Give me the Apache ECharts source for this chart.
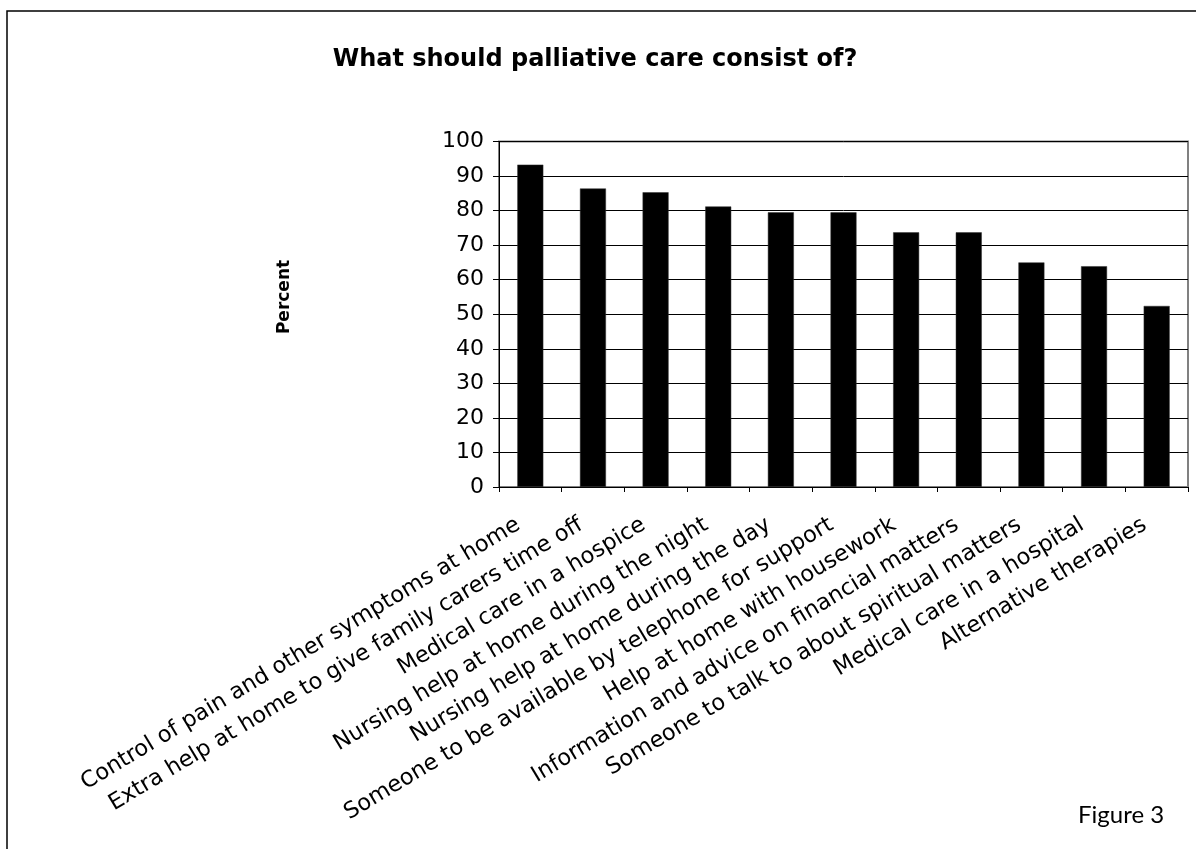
<!DOCTYPE html>
<html>
<head>
<meta charset="utf-8">
<script src="https://cdn.jsdelivr.net/npm/echarts@6/dist/echarts.min.js"></script>
<style>
html,body{margin:0;padding:0;background:#fff;}
#chart{width:1196px;height:849px;}
</style>
</head>
<body>
<div id="chart"></div>
<script>
var titleText = 'What should palliative care consist of?';
var yAxisTitle = 'Percent';
var figureLabel = 'Figure 3';
var categories = [
  'Control of pain and other symptoms at home',
  'Extra help at home to give family carers time off',
  'Medical care in a hospice',
  'Nursing help at home during the night',
  'Nursing help at home during the day',
  'Someone to be available by telephone for support',
  'Help at home with housework',
  'Information and advice on financial matters',
  'Someone to talk to about spiritual matters',
  'Medical care in a hospital',
  'Alternative therapies'
];
var percentValues = [93.3, 86.4, 85.3, 81.2, 79.5, 79.5, 73.7, 73.7, 65.0, 63.9, 52.4];
var yTicks = [0, 10, 20, 30, 40, 50, 60, 70, 80, 90, 100];

var chart = echarts.init(document.getElementById('chart'), null, {renderer: 'canvas'});
var font = '"DejaVu Sans", Verdana, sans-serif';
chart.setOption({
  animation: false,
  backgroundColor: '#ffffff',
  title: {
    text: titleText,
    left: 590,
    textAlign: 'center',
    top: 43,
    textStyle: {fontFamily: font, fontWeight: 'bold', fontSize: 24, color: '#000'}
  },
  grid: {
    left: 499, right: 8, top: 141.5, bottom: 362,
    show: true, borderColor: '#808080', borderWidth: 2, backgroundColor: '#fff'
  },
  xAxis: {
    type: 'category',
    data: categories,
    axisLine: {lineStyle: {color: '#000', width: 1}},
    axisTick: {show: true, length: 5, lineStyle: {color: '#000'}},
    axisLabel: {
      interval: 0, rotate: 31, margin: 29,
      padding: [0, 14, 0, 0],
      fontFamily: font, fontSize: 22.5, color: '#000'
    }
  },
  yAxis: {
    type: 'value',
    min: yTicks[0], max: yTicks[yTicks.length - 1], interval: 10,
    axisLine: {show: true, lineStyle: {color: '#000', width: 1}},
    axisTick: {show: true, length: 6, lineStyle: {color: '#000'}},
    axisLabel: {margin: 15, fontFamily: font, fontSize: 22, color: '#000'},
    splitLine: {show: true, lineStyle: {color: '#000', width: 1}}
  },
  series: [{
    type: 'bar',
    data: percentValues,
    barWidth: 26,
    itemStyle: {color: '#000', borderColor: '#333', borderWidth: 0.5}
  }],
  graphic: [
    {
      type: 'rect',
      shape: {x: 7, y: 11, width: 1200, height: 900},
      style: {fill: 'none', stroke: '#000', lineWidth: 1.5},
      silent: true, z: -10
    },
    {
      type: 'text',
      x: 285, y: 297,
      rotation: Math.PI / 2,
      style: {
        text: yAxisTitle,
        font: 'bold 17px "DejaVu Sans", Verdana, sans-serif',
        fill: '#000', align: 'center', verticalAlign: 'middle'
      }
    },
    {
      type: 'text',
      left: 1078, top: 803,
      style: {text: figureLabel, font: '24px Lato, "Open Sans", sans-serif', fill: '#000'}
    }
  ]
});
</script>
</body>
</html>
